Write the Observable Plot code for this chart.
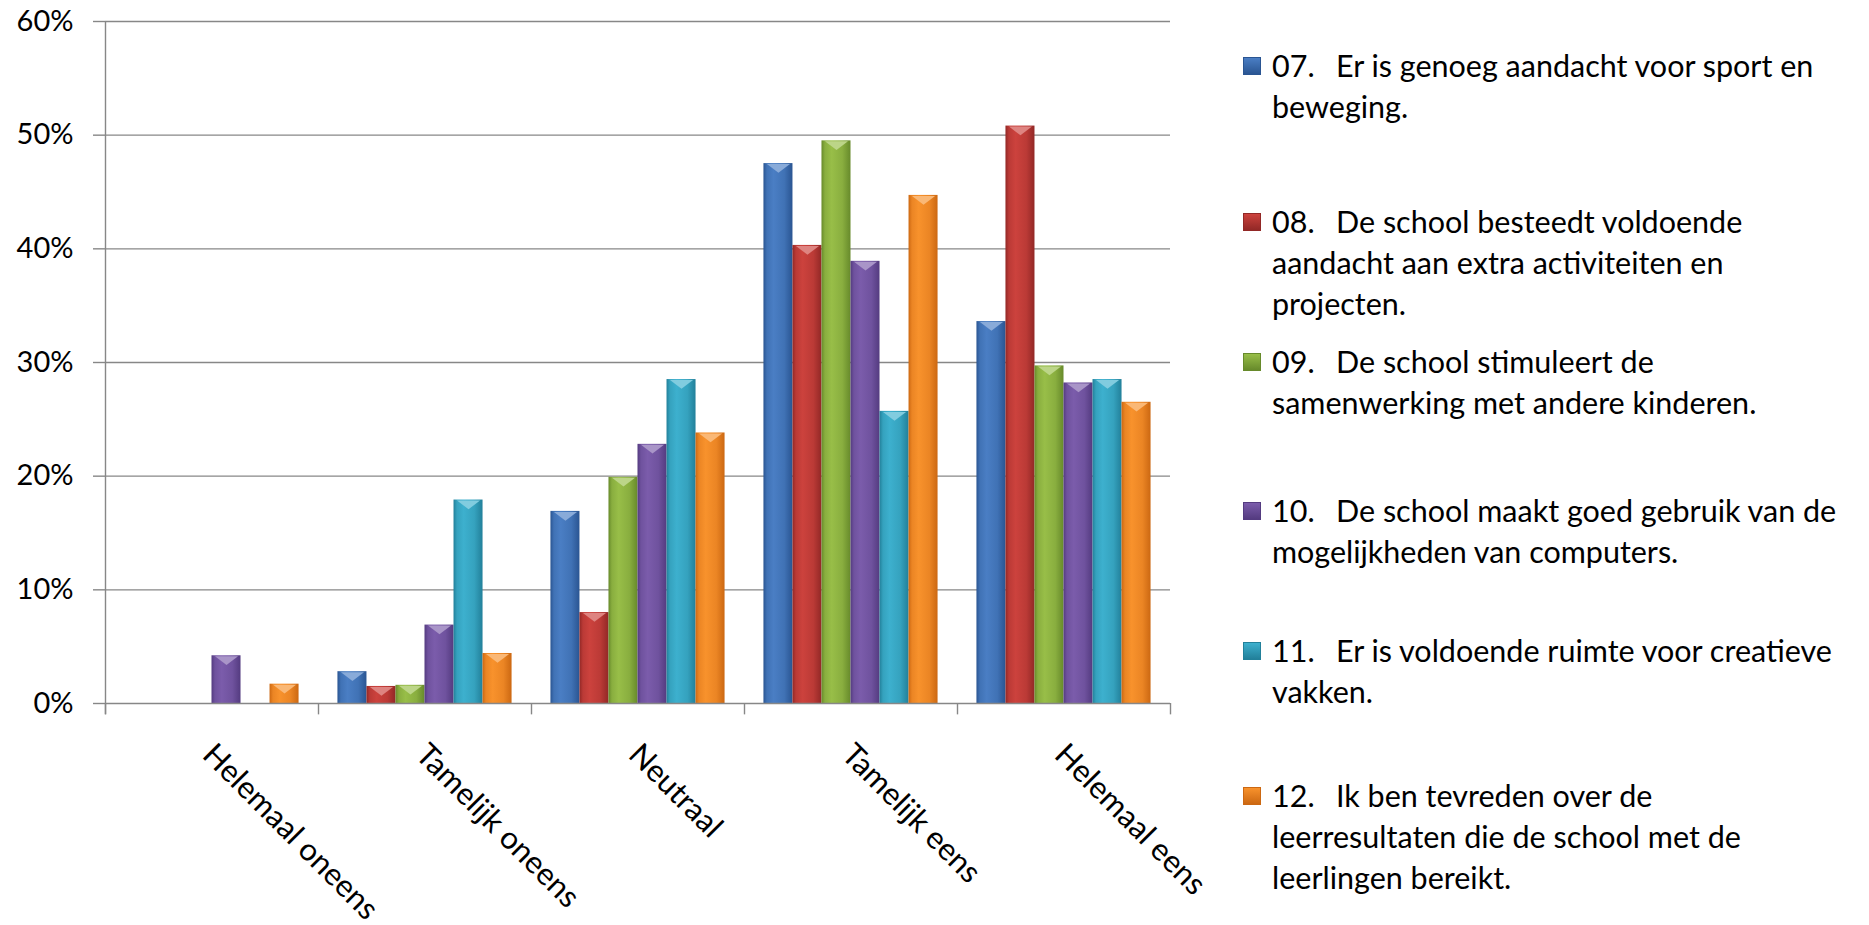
<!DOCTYPE html>
<html><head><meta charset="utf-8">
<script src="https://cdn.jsdelivr.net/npm/d3@7"></script>
<script src="https://cdn.jsdelivr.net/npm/@observablehq/plot@0.6"></script>
<style>
html,body{margin:0;padding:0;background:#fff;overflow:hidden;}
#wrap{position:relative;width:1869px;height:925px;font-family:Lato,sans-serif;}
#chart{position:absolute;left:0;top:0;}
.entry{position:absolute;left:1243px;font-size:30.5px;line-height:41px;color:#000;white-space:nowrap;}
.sw{position:absolute;left:0;top:12px;width:18px;height:18px;box-sizing:border-box;}
.txt{position:absolute;left:29px;top:0;}
.num{display:inline-block;width:64px;}
</style></head><body><div id="wrap"><div id="chart"></div><div id="legend"></div></div>
<script>
const categories = ["Helemaal oneens","Tamelijk oneens","Neutraal","Tamelijk eens","Helemaal eens"];
const seriesKeys = ["07","08","09","10","11","12"];
const s07 = [0, 2.8, 16.9, 47.5, 33.6];
const s08 = [0, 1.5, 8.0, 40.3, 50.8];
const s09 = [0, 1.6, 19.9, 49.5, 29.7];
const s10 = [4.2, 6.9, 22.8, 38.9, 28.2];
const s11 = [0, 17.9, 28.5, 25.7, 28.5];
const s12 = [1.7, 4.4, 23.8, 44.7, 26.5];
const seriesValues = [s07, s08, s09, s10, s11, s12];
const yTicks = [0, 10, 20, 30, 40, 50, 60];
const legendNumbers = ["07.","08.","09.","10.","11.","12."];
const legendLines = [
  ["Er is genoeg aandacht voor sport en", "beweging."],
  ["De school besteedt voldoende", "aandacht aan extra activiteiten en", "projecten."],
  ["De school stimuleert de", "samenwerking met andere kinderen."],
  ["De school maakt goed gebruik van de", "mogelijkheden van computers."],
  ["Er is voldoende ruimte voor creatieve", "vakken."],
  ["Ik ben tevreden over de", "leerresultaten die de school met de", "leerlingen bereikt."]
];
const lightColors = ["#4A7EC4","#CC423D","#98BE48","#7B5CAB","#3DB0CE","#F8922C"];
const darkColors  = ["#2A5592","#922826","#678A2B","#543B80","#22809A","#CC6812"];

// layout (pixels)
const legendCapCenters = [66, 222, 362, 511, 651, 796];

const rows = categories.flatMap((c, i) => seriesKeys.map((s, j) => ({cat: c, series: s, value: seriesValues[j][i], idx: j})));

const W = 1200, H = 925, ML = 105, MR = 30, MT = 21, MB = 222;
const po = 0.67;
const fw = (W - ML - MR) / categories.length;
const step = fw / (seriesKeys.length + 2 * po);
const edge = po * step + step / 2;
const tickLen = 1;
const axisColor = "#878787";

const bevel = {
  draw(ctx, size) {
    const w = Math.sqrt(size);
    const h = w * 0.38;
    ctx.moveTo(-w / 2, 0);
    ctx.lineTo(w / 2, 0);
    ctx.lineTo(0, h);
    ctx.closePath();
  }
};

const chart = Plot.plot({
  width: W, height: H,
  marginLeft: ML, marginRight: MR, marginTop: MT, marginBottom: MB,
  style: {fontFamily: "Lato, sans-serif", background: "transparent", overflow: "visible"},
  fx: {domain: categories, padding: 0, round: false, label: null, axis: null},
  x: {domain: seriesKeys, paddingInner: 0, paddingOuter: po, round: false, axis: null},
  y: {domain: [0, 60], axis: null},
  color: {type: "identity"},
  marks: [
    Plot.gridY(yTicks.slice(1), {stroke: axisColor, strokeOpacity: 1, strokeWidth: 1.4}),
    Plot.axisY(yTicks, {tickSize: 12, tickPadding: 20, tickFormat: d => d + "%", fontSize: 29, stroke: axisColor, strokeWidth: 1.4, fill: "#000", label: null}),
    Plot.barY(rows, {fx: "cat", x: "series", y: "value", fill: d => `url(#grad${d.idx})`}),
    Plot.dot(rows.filter(d => d.value > 0), {fx: "cat", x: "series", y: "value", symbol: bevel, r: 13, dy: 0.5,
      fill: d => d3.interpolateRgb(lightColors[d.idx], "#ffffff")(0.35), stroke: null}),
    Plot.ruleY([0], {stroke: axisColor, strokeWidth: 1.4}),
    Plot.ruleX(categories, {fx: d => d, x: () => seriesKeys[0], y1: -tickLen, y2: 0, dx: -edge, stroke: axisColor, strokeWidth: 1.4}),
    Plot.ruleX([categories[0]], {fx: d => d, x: () => seriesKeys[0], y1: -tickLen, y2: 60, dx: -edge, stroke: axisColor, strokeWidth: 1.4}),
    Plot.ruleX([categories[categories.length - 1]], {fx: d => d, x: () => seriesKeys[seriesKeys.length - 1], y1: -tickLen, y2: 0, dx: edge, stroke: axisColor, strokeWidth: 1.4}),
    Plot.axisFx({anchor: "bottom", tickSize: 0, tickPadding: 46, dx: -4, tickRotate: 45, fontSize: 31, fill: "#000", label: null})
  ]
});

const defs = d3.select(chart).insert("defs", ":first-child");
seriesKeys.forEach((s, j) => {
  const g = defs.append("linearGradient").attr("id", "grad" + j).attr("x1", 0).attr("x2", 1).attr("y1", 0).attr("y2", 0);
  const mid = d3.interpolateRgb(darkColors[j], lightColors[j])(0.7);
  [[0, darkColors[j]], [0.12, mid], [0.35, lightColors[j]], [0.72, mid], [1, darkColors[j]]]
    .forEach(([o, c]) => g.append("stop").attr("offset", o).attr("stop-color", c));
});
document.getElementById("chart").appendChild(chart);

const legend = document.getElementById("legend");
const capOffset = 21;
legendLines.forEach((lines, j) => {
  const e = document.createElement("div");
  e.className = "entry";
  e.style.top = (legendCapCenters[j] - capOffset) + "px";
  const sw = document.createElement("div");
  sw.className = "sw";
  sw.style.background = `linear-gradient(to bottom, ${lightColors[j]}, ${darkColors[j]})`;
  sw.style.border = `1px solid ${darkColors[j]}`;
  e.appendChild(sw);
  const t = document.createElement("div");
  t.className = "txt";
  lines.forEach((ln, k) => {
    const d = document.createElement("div");
    if (k === 0) {
      const n = document.createElement("span");
      n.className = "num";
      n.textContent = legendNumbers[j];
      d.appendChild(n);
    }
    d.appendChild(document.createTextNode(ln));
    t.appendChild(d);
  });
  e.appendChild(t);
  legend.appendChild(e);
});
</script></body></html>
